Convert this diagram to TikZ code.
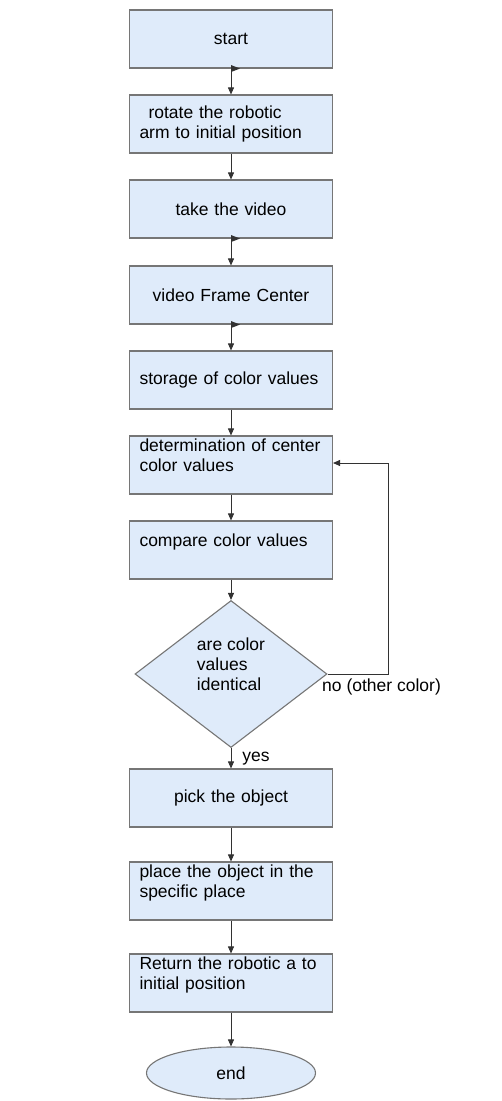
\documentclass[tikz,border=0pt]{standalone}
\usepackage{fontspec}
\setmainfont{Liberation Sans}
\usetikzlibrary{shapes.geometric,arrows.meta}
\newcommand\flowfont{\fontsize{17.5}{20}\selectfont}
\begin{document}
\begin{tikzpicture}[x=1pt,y=-1pt,>={Triangle[length=7pt,width=6pt]}]
\tikzset{
  stepbox/.style={draw=boxedge, fill=boxfill, line width=1.1pt, minimum width=203pt, minimum height=58pt, text width=183pt, inner xsep=10pt, inner ysep=0pt, font=\flowfont},
  mid/.style={align=center},
  lft/.style={align=left},
  decision/.style={diamond, draw=boxedge, fill=boxfill, line width=1.1pt, minimum width=192pt, minimum height=147pt, inner sep=0pt, align=left, font=\flowfont},
  terminal/.style={ellipse, draw=boxedge, fill=boxfill, line width=1.1pt, minimum width=169pt, minimum height=52pt, font=\flowfont},
  flow/.style={->, draw=flowline, line width=.9pt},
  note/.style={font=\flowfont, inner sep=0pt}
}

\definecolor{boxfill}{RGB}{223,235,250}
\definecolor{boxedge}{RGB}{118,118,118}
\definecolor{flowline}{RGB}{50,50,50}

\fill[white] (0,0) rectangle (502,1101);
\useasboundingbox (0,0) rectangle (502,1101);

\node[stepbox,mid] (start) at (231,39) {start};
\node[stepbox,lft] (rotate) at (231,124) {\hspace*{9pt}rotate the robotic\\arm to initial position};
\node[stepbox,mid] (video) at (231,209) {take the video};
\node[stepbox,mid] (frame) at (231,295) {video Frame Center};
\node[stepbox,lft] (store) at (231,380) {storage of color values};
\node[stepbox,lft] (detect) at (231,465) {determination of center\\color values\\\mbox{}};
\node[stepbox,lft] (compare) at (231,550) {compare color values\\\mbox{}};
\node[decision] (same) at (231,674) {are color\\values\\identical\\\mbox{}};
\node[stepbox,mid] (pick) at (231,798) {pick the object};
\node[stepbox,lft] (place) at (231,891) {place the object in the\\specific place\\\mbox{}};
\node[stepbox,lft] (return) at (231,983) {Return the robotic a to\\initial position\\\mbox{}};
\node[terminal] (stop) at (231,1073) {end};

\draw[flow] (start) -- (rotate);
\draw[flow] (rotate) -- (video);
\draw[flow] (video) -- (frame);
\draw[flow] (frame) -- (store);
\draw[flow] (store) -- (detect);
\draw[flow] (detect) -- (compare);
\draw[flow] (compare) -- (same);
\draw[flow] (same) -- node[note,right,xshift=11pt] {yes} (pick);
\draw[flow] (pick) -- (place);
\draw[flow] (place) -- (return);
\draw[flow] (return) -- (stop);

\coordinate (back) at (388,463);
\draw[flow] (same.east) -| (back) -- (detect.east |- back);
\node[note,anchor=west] (nolabel) at (322,687) {no (other color)};

\foreach \src in {start,video,frame}
  \fill[flowline] (\src.south) ++(0,-3.5) -- ++(9,3.5) -- ++(-9,3.5) -- cycle;
\end{tikzpicture}
\end{document}
